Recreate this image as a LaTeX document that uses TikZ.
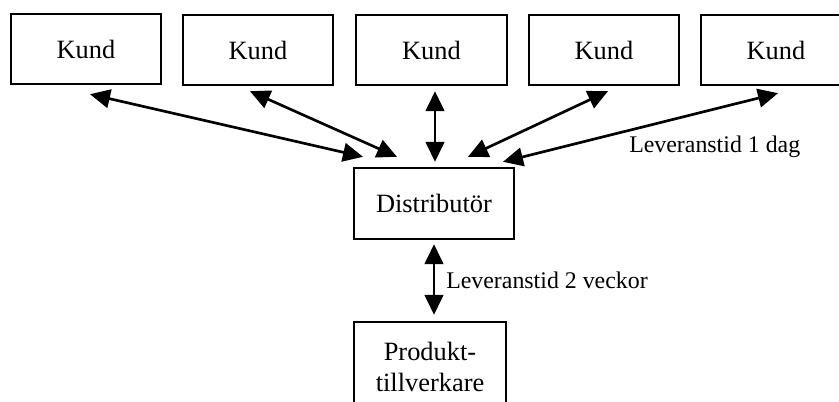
\documentclass[tikz,border=0pt]{standalone}
\usepackage{fontspec}
\setmainfont{Liberation Serif}
\usetikzlibrary{arrows.meta}
\begin{document}
\begin{tikzpicture}[x=0.75pt,y=-0.75pt,
  box/.style={draw,line width=1.8pt,inner sep=0pt,align=center,
    font=\fontsize{19.8pt}{23.8pt}\selectfont},
  tip/.tip={Triangle[length=15pt,width=14pt]},
  arr/.style={line width=2pt,tip-tip},
  lbl/.style={anchor=west,inner sep=0pt,font=\fontsize{17.9pt}{21pt}\selectfont}]
\useasboundingbox (0,0) rectangle (839,401);
\clip (0,0) rectangle (839,401);
\node[box,minimum width=112.5pt,minimum height=52.5pt] (k1) at (86,49) {Kund};
\node[box,minimum width=112.5pt,minimum height=52.5pt] (k2) at (258,50) {Kund};
\node[box,minimum width=113.25pt,minimum height=52.5pt] (k3) at (431.5,50) {Kund};
\node[box,minimum width=112.5pt,minimum height=52.5pt] (k4) at (604,50) {Kund};
\node[box,minimum width=112.5pt,minimum height=52.5pt] (k5) at (776,50) {Kund};
\node[box,minimum width=120pt,minimum height=53.25pt] (d) at (434,203.5) {Distributör};
\node[box,minimum width=114pt,minimum height=67.5pt] (p) at (430,367) {Produkt-\\tillverkare};
\draw[arr] ([shift={(4,9)}]k1.south) -- ([shift={(-71,-10)}]d.north);
\draw[arr] ([shift={(-8,5)}]k2.south) -- ([shift={(-37,-10)}]d.north);
\draw[arr] ([shift={(3.5,5)}]k3.south) -- ([shift={(1,-5)}]d.north);
\draw[arr] ([shift={(4,5)}]k4.south) -- ([shift={(34,-10)}]d.north);
\draw[arr] ([shift={(2,7)}]k5.south) -- ([shift={(69,-5)}]d.north);
\draw[arr] ([shift={(0,4)}]d.south) -- ([shift={(4,-6)}]p.north);
\node[lbl] (l1) at (629,147) {Leveranstid 1 dag};
\node[lbl] (l2) at (446,280) {Leveranstid 2 veckor};
\end{tikzpicture}
\end{document}
